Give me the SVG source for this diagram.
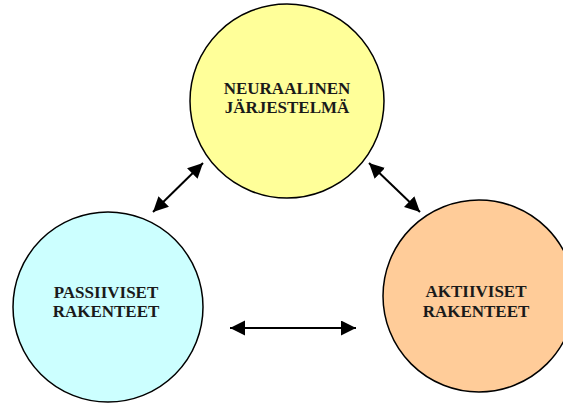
<svg xmlns="http://www.w3.org/2000/svg" width="563" height="403" viewBox="0 0 563 403">
<style>
.node circle{stroke:#000;stroke-width:1.5}
.node text{font-family:"Liberation Serif","Times New Roman",serif;font-weight:bold;font-size:17px;fill:#1a1a1a;text-anchor:middle}
.conn line{stroke:#000;stroke-width:2;marker-start:url(#ah);marker-end:url(#ah)}
</style>
<defs>
<marker id="ah" markerUnits="userSpaceOnUse" markerWidth="16" markerHeight="16" refX="15" refY="7.5" orient="auto-start-reverse" viewBox="0 0 16 16">
<path d="M0,0 L15,7.5 L0,15 z" fill="#000"/>
</marker>
</defs>
<rect width="563" height="403" fill="#fff"/>
<g id="neuraalinen" class="node">
<circle cx="287" cy="101" r="97" fill="#FFFF99"/>
<text x="287" y="94">NEURAALINEN</text>
<text x="287" y="113">JÄRJESTELMÄ</text>
</g>
<g id="passiiviset" class="node">
<circle cx="108" cy="307" r="95" fill="#CCFFFF"/>
<text x="106" y="298">PASSIIVISET</text>
<text x="106" y="317">RAKENTEET</text>
</g>
<g id="aktiiviset" class="node">
<circle cx="479" cy="296" r="96" fill="#FFCC99"/>
<text x="476" y="297">AKTIIVISET</text>
<text x="476" y="317">RAKENTEET</text>
</g>
<g id="connectors" class="conn">
<line x1="153" y1="212" x2="203" y2="163"/>
<line x1="369" y1="163" x2="420" y2="212"/>
<line x1="230" y1="328" x2="356" y2="328"/>
</g>
</svg>
